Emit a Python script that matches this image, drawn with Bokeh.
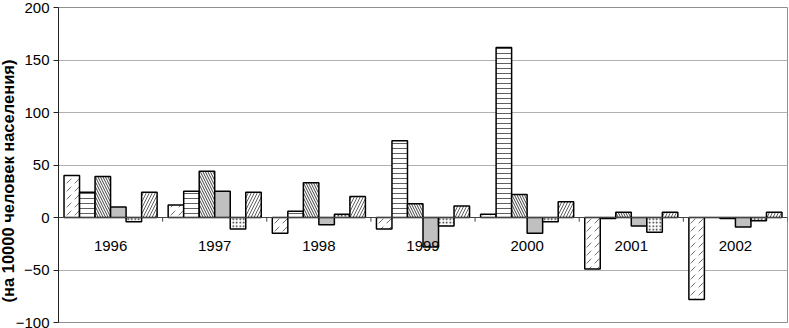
from bokeh.plotting import figure
from bokeh.models import FactorRange, Range1d, Title, Span, ColumnDataSource, FixedTicker
from bokeh.transform import dodge
from bokeh.embed import file_html
from bokeh.resources import INLINE
from bokeh.core.properties import value

years = ["1996", "1997", "1998", "1999", "2000", "2001", "2002"]
series1 = [40, 12, -15, -11, 3, -49, -78]
series2 = [24, 25, 6, 73, 162, -1, 0]
series3 = [39, 44, 33, 13, 22, 5, -1]
series4 = [10, 25, -7, -28, -15, -8, -9]
series5 = [-4, -11, 3, -8, -4, -14, -3]
series6 = [24, 24, 20, 11, 15, 5, 5]
y_ticks = [-100, -50, 0, 50, 100, 150, 200]
y_label = "(на 10000 человек населения)"

series = [series1, series2, series3, series4, series5, series6]

styles = [
    dict(fill_color="white", hatch_pattern=",", hatch_color="#707070", hatch_scale=8, hatch_weight=1),
    dict(fill_color="white", hatch_pattern="-", hatch_color="#606060", hatch_scale=5, hatch_weight=1),
    dict(fill_color="white", hatch_pattern="\\", hatch_color="#404040", hatch_scale=5, hatch_weight=1),
    dict(fill_color="#c0c0c0"),
    dict(fill_color="white", hatch_pattern=".", hatch_color="#202020", hatch_scale=3.5, hatch_weight=1.2),
    dict(fill_color="white", hatch_pattern="/", hatch_color="#606060", hatch_scale=6, hatch_weight=1),
]

p = figure(x_range=FactorRange(*years, range_padding=0), y_range=Range1d(-100, 200),
           width=789, height=328, output_backend="svg", toolbar_location=None,
           min_border_left=0, min_border_right=2, min_border_top=7, min_border_bottom=6)

p.background_fill_color = "white"
p.border_fill_color = "white"
p.outline_line_color = "#909090"
p.xaxis.visible = False
p.xgrid.visible = False
p.ygrid.grid_line_color = "#b0b0b0"

p.yaxis.ticker = FixedTicker(ticks=y_ticks)
p.yaxis.major_label_text_font = "Liberation Sans"
p.yaxis.major_label_text_font_size = "15px"
p.yaxis.major_label_text_color = "black"
p.yaxis.major_tick_out = 5
p.yaxis.major_tick_in = 0
p.yaxis.minor_tick_line_color = None
p.yaxis.major_label_standoff = 4
p.yaxis.axis_line_color = "#222222"
p.yaxis.major_tick_line_color = "#222222"

p.add_layout(Title(text=y_label, align="left", offset=20, standoff=-8,
                   text_font="Liberation Sans", text_font_style="bold",
                   text_font_size="16.5px", text_color="black"), "left")

n = len(series)
bw = 0.149
src = ColumnDataSource(dict(year=years, **{f"s{i}": s for i, s in enumerate(series)},
                            zero=[0] * len(years), tick=[-4] * len(years)))

for i, st in enumerate(styles):
    off = (i - (n - 1) / 2) * bw
    p.vbar(x=dodge("year", off, range=p.x_range), top=f"s{i}", bottom=0, width=bw,
           source=src, line_color="black", line_width=1.5, **st)

p.add_layout(Span(location=0, dimension="width", line_color="#444444", line_width=1))

p.segment(x0=dodge("year", 0.5, range=p.x_range), y0="zero",
          x1=dodge("year", 0.5, range=p.x_range), y1="tick",
          source=src, line_color="#444444", line_width=1)

p.text(x="year", y="zero", text="year", source=src, text_align="center",
       text_baseline="alphabetic", y_offset=28, text_font=value("Liberation Sans"),
       text_font_size="15px", text_color="black")

open("out.html", "w").write(file_html(p, INLINE))
